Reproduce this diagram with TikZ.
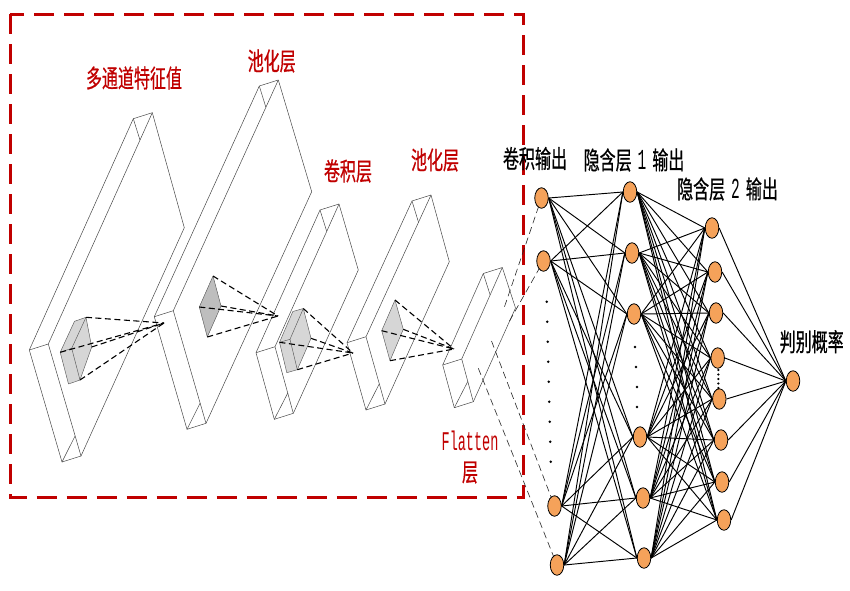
\documentclass[tikz,border=0pt]{standalone}
\usepackage{fontspec}
\newfontfamily\cjkf[FakeStretch=0.64,FakeBold=0.6]{Noto Sans CJK SC}
\newfontfamily\monof[FakeStretch=0.5]{Liberation Mono}
\usetikzlibrary{calc,shapes.geometric}
\definecolor{framered}{HTML}{C00000}
\definecolor{nodeorange}{HTML}{F5A25A}
\definecolor{kgraylight}{HTML}{D6D6D6}
\definecolor{kgraydark}{HTML}{BEBEBE}

% thin slab: #1 front top, #2 right, #3 left, #4 bottom
\newcommand\slabbox[4]{%
  \draw[slabline] (#1) -- (#2) -- (#4) -- ($(#4)+(-19,6)$) -- ($(#3)+(-19,6)$) -- ($(#1)+(-19,6)$) -- cycle;
  \draw[slabline] (#1) -- (#3) -- (#4) (#3) -- ($(#3)+(-19,6)$);
  \draw[slabline] ($(#1)+(-19,6)$) -- ($(#1)!30pt!(#3)$);
  \draw[slabline] ($(#4)+(-19,6)$) -- ($(#4)!21pt!(#3)$);
}
% small kernel box: #1 top, #2 right, #3 left, #4 bottom, #5 depth
\newcommand\kernelbox[5]{%
  \filldraw[kline, fill=kgraylight] (#1) -- (#2) -- (#4) -- ($(#4)+(#5)$) -- ($(#3)+(#5)$) -- ($(#1)+(#5)$) -- cycle;
  \draw[kline] (#1) -- (#3) -- (#4) (#3) -- ($(#3)+(#5)$);
}
\newcommand\dg[1]{{\monof\fontsize{29}{29}\selectfont #1}}

\begin{document}
\begin{tikzpicture}[x=1pt,y=-1pt,
  slabline/.style={draw=black!72, line width=0.5pt, line join=round},
  kline/.style={draw=black!65, line width=0.45pt, line join=round},
  proj/.style={draw=black, line width=1.1pt, dash pattern=on 6pt off 3.5pt},
  flatproj/.style={draw=black!85, line width=0.6pt, dash pattern=on 7pt off 4pt},
  neuron/.style={ellipse, draw=black, line width=0.8pt, fill=nodeorange,
    minimum width=13.5pt, minimum height=20.5pt, inner sep=0pt},
  conn/.style={draw=black, line width=0.95pt},
  redlab/.style={text=framered, font=\cjkf\fontsize{25}{25}\selectfont, inner sep=0pt},
  blklab/.style={text=black, font=\cjkf\fontsize{25}{25}\selectfont, inner sep=0pt},
]
\useasboundingbox (0,0) rectangle (850,590);

% ---------- red dashed frame ----------
\draw[framered, line width=3pt, dash pattern=on 20pt off 10pt] (10,14) rectangle (523.5,497.5);

% ---------- slabs ----------
\slabbox{152.3,112.7}{184.3,227.7}{48.3,344}{81,456}
\slabbox{278.3,80}{311.7,191.7}{173.3,310.7}{206,423.3}
\slabbox{339,204}{358.3,270}{275,346.7}{293.3,413.3}
\slabbox{431,195}{449.3,261.7}{366,336.7}{385,404}
\slabbox{502.3,267.5}{515.5,308}{461.7,359}{473.3,401.7}

% ---------- kernels ----------
\kernelbox{86,317.3}{91.7,347}{71.7,348.3}{80,380}{-11.5,4}
\kernelbox{303.3,308.5}{311,338.3}{290,339.3}{297.3,369.7}{-10.5,3}
\filldraw[kline, fill=kgraydark] (213,276) -- (221,306) -- (207.3,337) -- (199.3,307) -- cycle;
\filldraw[kline, fill=kgraylight] (395,300) -- (403.3,329.3) -- (390,360.7) -- (381.7,330.7) -- cycle;

% ---------- projection lines ----------
\coordinate (ap1) at (164,323);
\coordinate (ap2) at (278,316);
\coordinate (ap3) at (353,353);
\coordinate (ap4) at (454,349);
\foreach \p in {(86,317.3),(60.2,352.3),(91.7,347),(80,380)} \draw[proj] \p -- (ap1);
\foreach \p in {(213,276),(199.3,307),(221,306),(207.3,337)} \draw[proj] \p -- (ap2);
\foreach \p in {(303.3,308.5),(279.5,342.3),(311,338.3),(297.3,369.7)} \draw[proj] \p -- (ap3);
\foreach \p in {(395,300),(381.7,330.7),(403.3,329.3),(390,360.7)} \draw[proj] \p -- (ap4);

% ---------- neurons ----------
\node[neuron] (i1) at (541.5,198) {};
\node[neuron] (i2) at (543.5,261) {};
\node[neuron] (i3) at (554.5,506) {};
\node[neuron] (i4) at (557,565) {};

\node[neuron] (a1) at (630,192) {};
\node[neuron] (a2) at (632,253) {};
\node[neuron] (a3) at (634,314) {};
\node[neuron] (a4) at (640,437) {};
\node[neuron] (a5) at (643,498) {};
\node[neuron] (a6) at (644,558) {};

\node[neuron] (b1) at (712,228) {};
\node[neuron] (b2) at (715,272) {};
\node[neuron] (b3) at (716,313) {};
\node[neuron] (b4) at (717.7,358) {};
\node[neuron] (b5) at (719.3,399) {};
\node[neuron] (b6) at (721,440) {};
\node[neuron] (b7) at (722,482) {};
\node[neuron] (b8) at (724,520) {};

\node[neuron] (o1) at (793,381) {};

% ---------- connections ----------
\foreach \i in {1,...,4} \foreach \j in {1,...,6} \draw[conn] (i\i.east) -- (a\j.west);
\foreach \i in {1,...,6} \foreach \j in {1,...,8} \draw[conn] (a\i.east) -- (b\j.west);
\foreach \j in {1,...,8} \draw[conn] (b\j.east) -- (o1.west);

% ---------- flatten to input ----------
\coordinate (f1) at (504.5,306.7);
\coordinate (f2) at (509.5,321);
\coordinate (f3) at (491.5,341);
\coordinate (f4) at (478.3,368.3);
\draw[flatproj] (f1) -- (i1);
\draw[flatproj] (f2) -- (i2);
\draw[flatproj] (f3) -- (i3);
\draw[flatproj] (f4) -- (i4);

% ---------- ellipsis dots ----------
\foreach \k in {0,...,8} \fill ({546.7+0.5*\k},{301.7+20*\k}) circle (1.4pt);
\foreach \y/\x in {347/635,367/636,387/637,407/637} \fill (\x,\y) circle (1.4pt);
\foreach \y in {370,374.5,379,383.5,388} \fill (718.3,\y) circle (1.2pt);

% ---------- labels ----------
\node[redlab] (l1) at (134,78) {多通道特征值};
\node[redlab] (l2) at (271.7,61) {池化层};
\node[redlab] (l3) at (348,171) {卷积层};
\node[redlab] (l4) at (435,160) {池化层};
\node[text=framered, font=\monof\fontsize{27}{27}\selectfont, inner sep=0pt] (l5) at (470,441) {Flatten};
\node[redlab] (l6) at (470,472.5) {层};
\node[blklab] (l7) at (535,158.5) {卷积输出};
\node[blklab] (l8) at (634,160) {隐含层\hspace{6pt}\dg{1}\hspace{6pt}输出};
\node[blklab] (l9) at (727.5,189) {隐含层\hspace{6pt}\dg{2}\hspace{6pt}输出};
\node[blklab] (l10) at (811.7,341.7) {判别概率};
\end{tikzpicture}
\end{document}
